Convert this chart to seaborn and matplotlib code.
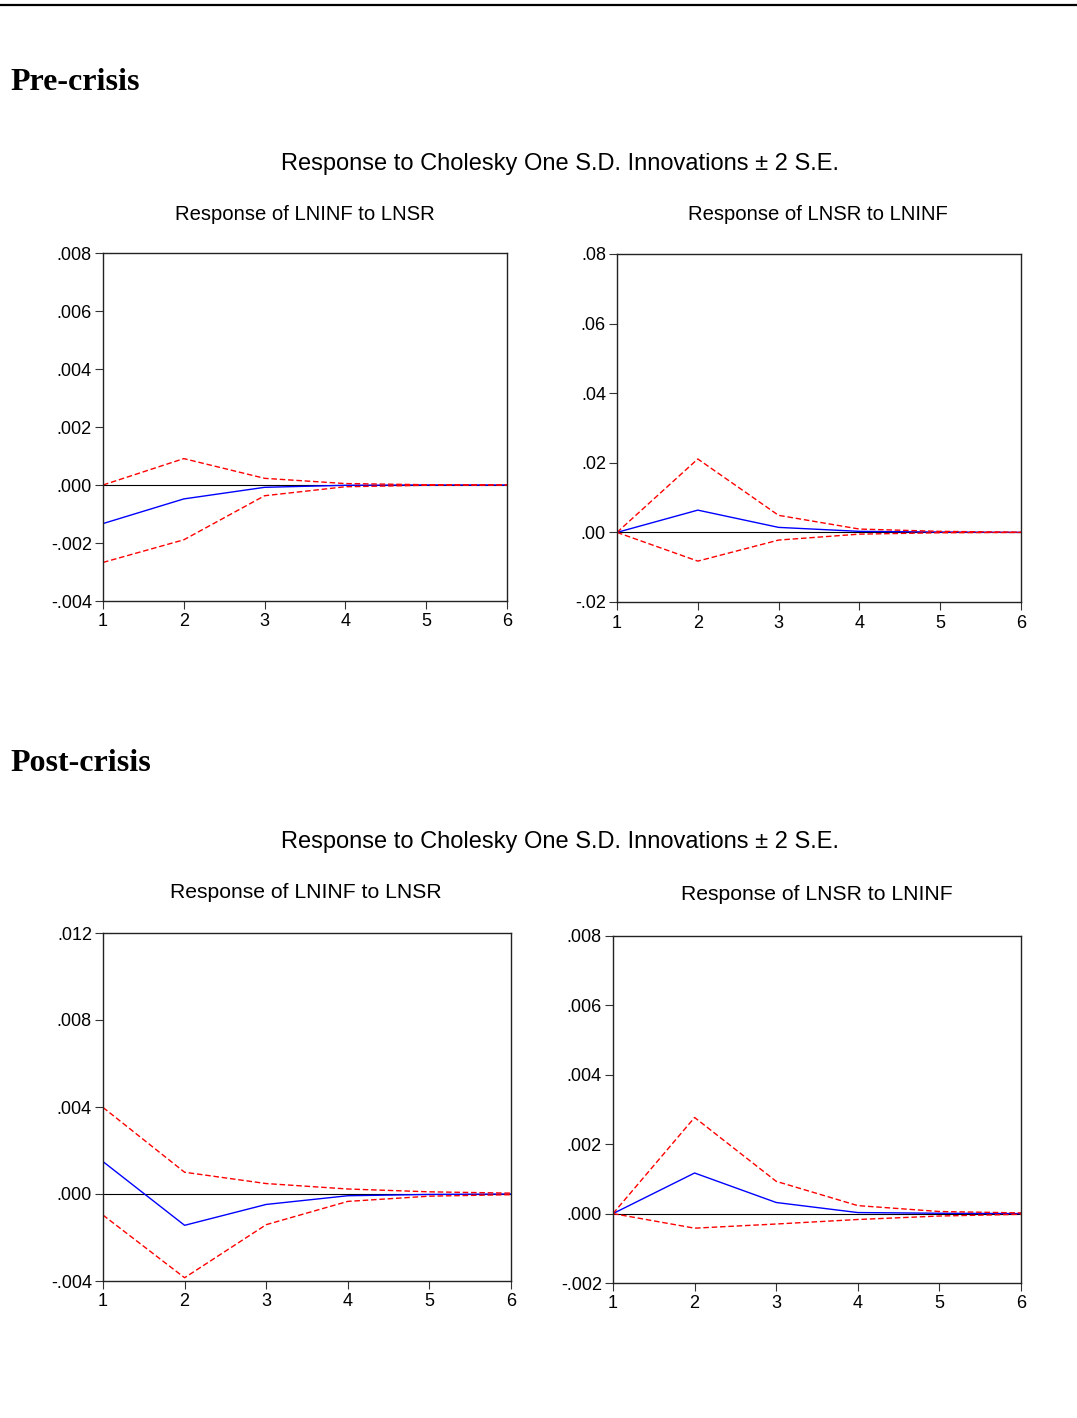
import matplotlib
matplotlib.use("Agg")
import matplotlib.pyplot as plt
from matplotlib.lines import Line2D
import seaborn as sns
import pandas as pd

# impulse response values, periods 1..6
steps = [1, 2, 3, 4, 5, 6]

pre_inf_sr = [-0.00133, -0.00048, -0.00008, -0.00001, 0.0, 0.0]
pre_inf_sr_up = [0.0, 0.00091, 0.00023, 0.00005, 0.00001, 0.0]
pre_inf_sr_lo = [-0.00267, -0.00189, -0.00037, -0.00006, -0.00001, 0.0]

pre_sr_inf = [0.0, 0.0064, 0.00144, 0.0003, 0.0001, 0.0]
pre_sr_inf_up = [0.0, 0.0211, 0.0049, 0.00096, 0.0003, 0.00005]
pre_sr_inf_lo = [0.0, -0.00825, -0.0022, -0.0005, -0.0001, 0.0]

post_inf_sr = [0.00149, -0.00144, -0.00048, -0.00008, -0.00002, 0.0]
post_inf_sr_up = [0.00398, 0.0010, 0.00048, 0.00023, 0.0001, 0.00004]
post_inf_sr_lo = [-0.00097, -0.00385, -0.00141, -0.00034, -0.0001, -0.00003]

post_sr_inf = [0.0, 0.00117, 0.00032, 0.00003, 0.00001, 0.0]
post_sr_inf_up = [0.0, 0.00277, 0.00093, 0.00023, 0.00006, 0.00002]
post_sr_inf_lo = [0.0, -0.00042, -0.0003, -0.00017, -0.00007, -0.00002]

pre_ticks_a = [-0.004, -0.002, 0.0, 0.002, 0.004, 0.006, 0.008]
pre_labels_a = ["-.004", "-.002", ".000", ".002", ".004", ".006", ".008"]
pre_ticks_b = [-0.02, 0.0, 0.02, 0.04, 0.06, 0.08]
pre_labels_b = ["-.02", ".00", ".02", ".04", ".06", ".08"]
post_ticks_a = [-0.004, 0.0, 0.004, 0.008, 0.012]
post_labels_a = ["-.004", ".000", ".004", ".008", ".012"]
post_ticks_b = [-0.002, 0.0, 0.002, 0.004, 0.006, 0.008]
post_labels_b = ["-.002", ".000", ".002", ".004", ".006", ".008"]

sns.set_style("white")
plt.rcParams["font.family"] = ["Liberation Sans", "DejaVu Sans"]
plt.rcParams["text.color"] = "black"

W, H = 1077, 1418
fig = plt.figure(figsize=(W / 100, H / 100), dpi=100)


def px_axes(l, t, r, b):
    return fig.add_axes([l / W, 1 - b / H, (r - l) / W, (b - t) / H])


def panel(ax, resp, up, lo, ticks, labels):
    df = pd.DataFrame({"step": steps, "resp": resp, "up": up, "lo": lo})
    ax.axhline(0, color="black", lw=0.8, zorder=1)
    sns.lineplot(data=df, x="step", y="resp", ax=ax, color="#0000ff", lw=1.0)
    sns.lineplot(data=df, x="step", y="up", ax=ax, color="#ff0000", lw=1.0, dashes=False, linestyle=(0, (4, 2)))
    sns.lineplot(data=df, x="step", y="lo", ax=ax, color="#ff0000", lw=1.0, dashes=False, linestyle=(0, (4, 2)))
    ax.set_xlim(1, 6)
    ax.set_ylim(ticks[0], ticks[-1])
    ax.set_xticks(steps)
    ax.set_yticks(ticks)
    ax.set_yticklabels(labels)
    ax.set_xlabel("")
    ax.set_ylabel("")
    ax.tick_params(axis="both", direction="out", length=6, width=0.8, labelsize=13,
                   left=True, bottom=True, colors="#333333", labelcolor="black")
    ax.tick_params(axis="x", pad=3)
    ax.tick_params(axis="y", pad=2)
    for s in ax.spines.values():
        s.set_color("#222222")
        s.set_linewidth(1.0)


ax1 = px_axes(103, 253, 507, 601)
panel(ax1, pre_inf_sr, pre_inf_sr_up, pre_inf_sr_lo, pre_ticks_a, pre_labels_a)
ax2 = px_axes(617, 254, 1021, 602)
panel(ax2, pre_sr_inf, pre_sr_inf_up, pre_sr_inf_lo, pre_ticks_b, pre_labels_b)
ax3 = px_axes(103, 933, 511, 1281)
panel(ax3, post_inf_sr, post_inf_sr_up, post_inf_sr_lo, post_ticks_a, post_labels_a)
ax4 = px_axes(613, 936, 1021, 1283)
panel(ax4, post_sr_inf, post_sr_inf_up, post_sr_inf_lo, post_ticks_b, post_labels_b)

# headings and titles
serif = ["Liberation Serif", "DejaVu Serif"]
fig.text(10 / W, 1 - 83 / H, "Pre-crisis", family=serif, weight="bold", fontsize=23, va="center", ha="left")
fig.text(10 / W, 1 - 763 / H, "Post-crisis", family=serif, weight="bold", fontsize=23, va="center", ha="left")

sup = "Response to Cholesky One S.D. Innovations \u00b1 2 S.E."
fig.text(560 / W, 1 - 164 / H, sup, fontsize=17, ha="center", va="center")
fig.text(560 / W, 1 - 842 / H, sup, fontsize=17, ha="center", va="center")

fig.text(305 / W, 1 - 214 / H, "Response of LNINF to LNSR", fontsize=14.6, ha="center", va="center")
fig.text(818 / W, 1 - 215 / H, "Response of LNSR to LNINF", fontsize=14.6, ha="center", va="center")
fig.text(306 / W, 1 - 893 / H, "Response of LNINF to LNSR", fontsize=15.2, ha="center", va="center")
fig.text(817 / W, 1 - 895 / H, "Response of LNSR to LNINF", fontsize=15.2, ha="center", va="center")

fig.add_artist(Line2D([0, 1], [1 - 5 / H, 1 - 5 / H], color="black", lw=1.6, transform=fig.transFigure))

fig.savefig("out.png", dpi=100)
